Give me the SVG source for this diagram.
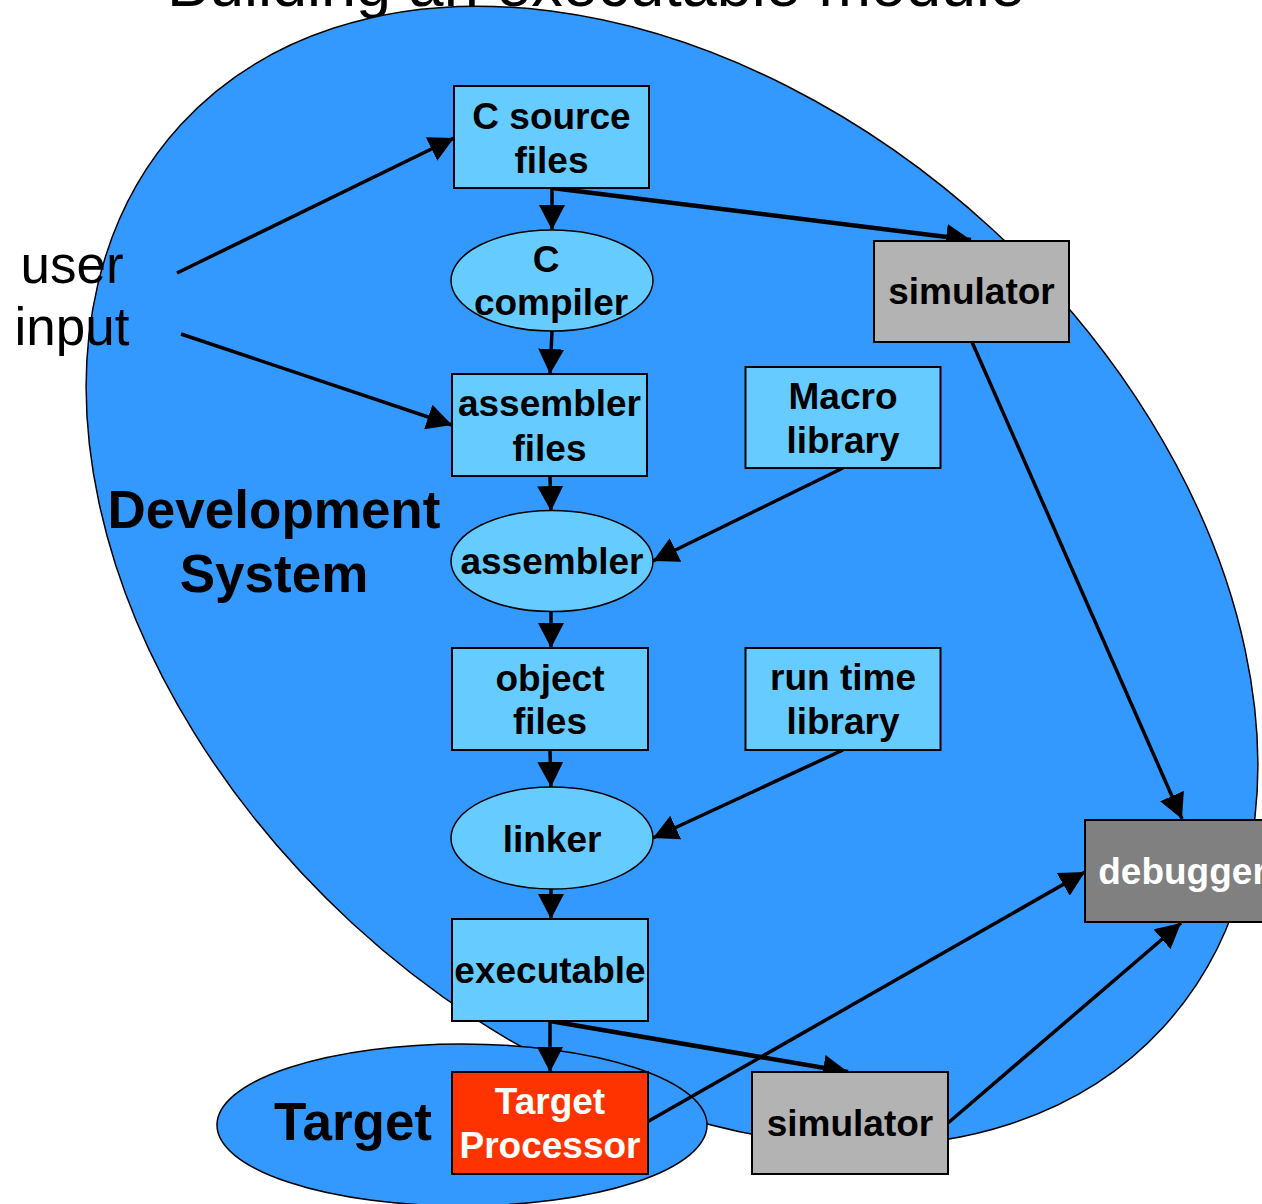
<svg xmlns="http://www.w3.org/2000/svg" width="1262" height="1204" viewBox="0 0 1262 1204">
<style>
.t{font-family:"Liberation Sans",Arial,sans-serif;font-weight:bold;font-size:37px;text-anchor:middle;fill:#000}
.w{fill:#fff}
.box{fill:#66CCFF;stroke:#000;stroke-width:2}
.ell{fill:#66CCFF;stroke:#000;stroke-width:1.5}
.sim{fill:#B3B3B3;stroke:#000;stroke-width:2}
.c{stroke:#000;stroke-width:3.5;fill:none;marker-end:url(#ah)}
.thick{stroke-width:4.5}
.lbl{font-family:"Liberation Sans",Arial,sans-serif;text-anchor:middle;fill:#000}
</style>
<defs>
<marker id="ah" markerUnits="userSpaceOnUse" markerWidth="28" markerHeight="28" refX="25" refY="13" orient="auto">
<path d="M0,0 L25,13 L0,26 z" fill="#000"/>
</marker>
</defs>
<rect width="1262" height="1204" fill="#fff"/>
<text class="lbl" x="596" y="6" font-size="63">Building an executable module</text>
<g id="dev-system">
<ellipse cx="672" cy="576" rx="667" ry="472" transform="rotate(42.6 672 576)" fill="#3399FF" stroke="#000" stroke-width="1.5"/>
</g>
<g id="target-area">
<ellipse cx="462" cy="1125" rx="245" ry="81" fill="#3399FF" stroke="#000" stroke-width="1.5"/>
</g>
<g id="labels">
<text class="lbl" x="72" y="283" font-size="53">user</text>
<text class="lbl" x="72" y="345" font-size="53">input</text>
<text class="lbl" x="274" y="528" font-size="53" font-weight="bold">Development</text>
<text class="lbl" x="274" y="592" font-size="53" font-weight="bold">System</text>
<text class="lbl" x="353" y="1140" font-size="53" font-weight="bold">Target</text>
</g>
<g id="connectors">
<line class="c" x1="177" y1="273" x2="454" y2="138"/>
<line class="c" x1="181" y1="334" x2="452" y2="425"/>
<line class="c" x1="552" y1="188" x2="552" y2="230"/>
<line class="c thick" x1="552" y1="188" x2="971" y2="240"/>
<line class="c" x1="552" y1="331" x2="550" y2="374"/>
<line class="c" x1="550" y1="477" x2="551" y2="511"/>
<line class="c" x1="843" y1="468" x2="653" y2="561"/>
<line class="c" x1="551" y1="612" x2="551" y2="648"/>
<line class="c" x1="550" y1="750" x2="551" y2="787"/>
<line class="c" x1="843" y1="750" x2="653" y2="838"/>
<line class="c" x1="551" y1="889" x2="551" y2="919"/>
<line class="c" x1="550" y1="1021" x2="550" y2="1072"/>
<line class="c thick" x1="550" y1="1021" x2="848" y2="1072"/>
<line class="c" x1="972" y1="342" x2="1182" y2="819"/>
<line class="c" x1="647" y1="1122" x2="1085" y2="872"/>
<line class="c" x1="948" y1="1123" x2="1181" y2="923"/>
</g>
<g id="c-source">
<rect class="box" x="454" y="86" width="195" height="102"/>
<text class="t" x="551.5" y="129">C source</text>
<text class="t" x="551.5" y="173">files</text>
</g>
<g id="c-compiler">
<ellipse class="ell" cx="552" cy="280.5" rx="101" ry="50.5"/>
<text class="t" x="546" y="272">C</text>
<text class="t" x="551" y="315">compiler</text>
</g>
<g id="assembler-files">
<rect class="box" x="452" y="374" width="195" height="102"/>
<text class="t" x="549.5" y="416">assembler</text>
<text class="t" x="549.5" y="461">files</text>
</g>
<g id="assembler">
<ellipse class="ell" cx="552" cy="561" rx="101" ry="50.5"/>
<text class="t" x="552" y="574">assembler</text>
</g>
<g id="macro-library">
<rect class="box" x="745.5" y="367" width="195" height="101"/>
<text class="t" x="843" y="409">Macro</text>
<text class="t" x="843" y="453">library</text>
</g>
<g id="object-files">
<rect class="box" x="452" y="648" width="196" height="102"/>
<text class="t" x="550" y="691">object</text>
<text class="t" x="550" y="734">files</text>
</g>
<g id="run-time-library">
<rect class="box" x="745.5" y="648" width="195" height="102"/>
<text class="t" x="843" y="690">run time</text>
<text class="t" x="843" y="734">library</text>
</g>
<g id="linker">
<ellipse class="ell" cx="552" cy="838" rx="101" ry="51"/>
<text class="t" x="552" y="852">linker</text>
</g>
<g id="executable">
<rect class="box" x="452" y="919" width="196" height="102"/>
<text class="t" x="550" y="983">executable</text>
</g>
<g id="target-processor">
<rect x="452" y="1072" width="196" height="102" fill="#FF3300" stroke="#000" stroke-width="2"/>
<text class="t w" x="550" y="1114">Target</text>
<text class="t w" x="550" y="1158">Processor</text>
</g>
<g id="simulator-top">
<rect class="sim" x="874" y="241" width="195" height="101"/>
<text class="t" x="971.5" y="304">simulator</text>
</g>
<g id="simulator-bottom">
<rect class="sim" x="752" y="1072" width="196" height="102"/>
<text class="t" x="850" y="1136">simulator</text>
</g>
<g id="debugger">
<rect x="1085" y="820" width="200" height="102" fill="#808080" stroke="#000" stroke-width="2"/>
<text class="t w" x="1182.5" y="884">debugger</text>
</g>
</svg>
